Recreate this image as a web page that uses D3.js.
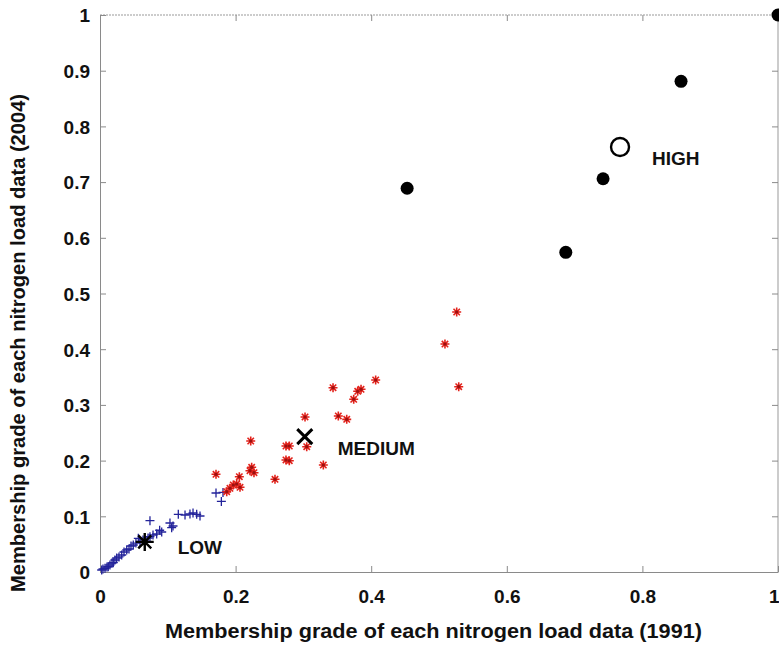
<!DOCTYPE html>
<html><head><meta charset="utf-8">
<script src="https://cdn.jsdelivr.net/npm/d3@7"></script>
<style>html,body{margin:0;padding:0;background:#fff;}svg{display:block;}</style>
</head><body>
<script>
// LOW cluster (blue +)
const lowX = [0.0025,0.0044,0.0074,0.0103,0.0122,0.0147,0.0177,0.0196,0.022,0.0246,0.028,0.032,0.0354,0.0394,0.0428,0.0457,0.0491,0.053,0.0565,0.059,0.0634,0.0708,0.0737,0.0782,0.0836,0.091,0.088,0.1032,0.1057,0.1077,0.0737,0.1155,0.1254,0.1327,0.1372,0.1426,0.1475,0.1711,0.1814,0.1790];
const lowY = [0.0036,0.0054,0.0066,0.009,0.0095,0.0126,0.016,0.0167,0.0215,0.0251,0.027,0.0305,0.0359,0.0395,0.0413,0.0467,0.0485,0.052,0.0605,0.0544,0.0575,0.061,0.0634,0.0664,0.0682,0.0718,0.075,0.088,0.0795,0.0826,0.0921,0.1036,0.1023,0.1041,0.1059,0.1036,0.1005,0.1418,0.1429,0.1267];
// MEDIUM cluster (red *)
const medX = [0.2223,0.2743,0.2792,0.3049,0.2743,0.2792,0.3294,0.2237,0.2212,0.2271,0.1711,0.2055,0.2581,0.2016,0.1966,0.2065,0.1917,0.1869,0.3024,0.3437,0.3515,0.3639,0.3742,0.3801,0.3850,0.4066,0.5088,0.5261,0.5291];
const medY = [0.2352,0.2262,0.2262,0.2250,0.2011,0.1998,0.1921,0.1880,0.1819,0.1783,0.1754,0.1711,0.1664,0.1580,0.1562,0.1521,0.1503,0.1442,0.2783,0.3309,0.2801,0.2741,0.3101,0.3244,0.3280,0.3447,0.4093,0.4668,0.3327];
// HIGH cluster (black dots)
const highX = [1.0,0.857,0.742,0.687,0.453];
const highY = [1.0,0.881,0.706,0.574,0.689];
// cluster centres
const centreNames = ["LOW","MEDIUM","HIGH"];
const centreX = [0.066,0.302,0.767];
const centreY = [0.054,0.243,0.763];
const tickVals = [0,0.2,0.4,0.6,0.8,1];
const yTickVals = [0,0.1,0.2,0.3,0.4,0.5,0.6,0.7,0.8,0.9,1];
const xTitle = "Membership grade of each nitrogen load data (1991)";
const yTitle = "Membership grade of each nitrogen load data (2004)";

const W = 779, H = 645;
const L = 100, R = 778, T = 15, B = 572;
const svg = d3.select("body").append("svg").attr("width", W).attr("height", H);
const x = d3.scaleLinear().domain([0,1]).range([L,R]);
const y = d3.scaleLinear().domain([0,1]).range([B,T]);
const font = "'Liberation Sans', Arial, sans-serif";

// frame
const axCol = "#8a8a8a";
svg.append("line").attr("x1",L).attr("x2",R).attr("y1",T).attr("y2",T).attr("stroke","#999").attr("stroke-dasharray","2,1");
svg.append("line").attr("x1",R).attr("x2",R).attr("y1",T).attr("y2",B).attr("stroke","#999");

// axes via d3
const xAxis = svg.append("g").attr("transform",`translate(0,${B})`)
  .call(d3.axisBottom(x).tickValues(tickVals).tickFormat(d3.format("~g")).tickSizeInner(-6).tickSizeOuter(0).tickPadding(18));
const yAxis = svg.append("g").attr("transform",`translate(${L},0)`)
  .call(d3.axisLeft(y).tickValues(yTickVals).tickFormat(d3.format("~g")).tickSizeInner(-6).tickSizeOuter(0).tickPadding(10));
const xTop = svg.append("g").attr("transform",`translate(0,${T})`)
  .call(d3.axisTop(x).tickValues(tickVals).tickFormat("").tickSizeInner(-6).tickSizeOuter(0));
const yRight = svg.append("g").attr("transform",`translate(${R},0)`)
  .call(d3.axisRight(y).tickValues(yTickVals).tickFormat("").tickSizeInner(-6).tickSizeOuter(0));
[xAxis,yAxis,xTop,yRight].forEach(g=>{
  g.selectAll("path.domain").attr("stroke",axCol);
  g.selectAll(".tick line").attr("stroke",axCol);
  g.selectAll("text").attr("font-family",font).attr("font-weight","bold").attr("font-size",19).attr("fill","#111");
});
xTop.select("path.domain").remove();
yRight.select("path.domain").remove();
yAxis.selectAll("text").attr("dy","0.36em");
// keep the last x label inside the window
xAxis.selectAll(".tick text").filter(d=>d===1).attr("text-anchor","end").attr("x",1);

// axis titles
svg.append("text").attr("x",(165+702)/2).attr("y",638).attr("text-anchor","middle")
  .attr("font-family",font).attr("font-weight","bold").attr("font-size",20).attr("fill","#111")
  .attr("textLength",537).attr("lengthAdjust","spacingAndGlyphs").text(xTitle);
svg.append("text").attr("transform","translate(25,343) rotate(-90)").attr("text-anchor","middle")
  .attr("font-family",font).attr("font-weight","bold").attr("font-size",20).attr("fill","#111")
  .attr("textLength",498).attr("lengthAdjust","spacingAndGlyphs").text(yTitle);

// LOW pluses
const low = d3.range(lowX.length).map(i=>[lowX[i],lowY[i]]);
svg.append("g").selectAll("path").data(low).join("path")
  .attr("d",d=>{const px=x(d[0]),py=y(d[1]),s=4.5;return `M${px-s},${py}H${px+s}M${px},${py-s}V${py+s}`;})
  .attr("stroke","#23239a").attr("stroke-width",1.3).attr("fill","none");

// MEDIUM asterisks
const med = d3.range(medX.length).map(i=>[medX[i],medY[i]]);
svg.append("g").selectAll("path").data(med).join("path")
  .attr("d",d=>{const px=x(d[0]),py=y(d[1]),s=4.5,t=3.2;
    return `M${px-s},${py}H${px+s}M${px},${py-s}V${py+s}M${px-t},${py-t}L${px+t},${py+t}M${px-t},${py+t}L${px+t},${py-t}`;})
  .attr("stroke","#e3231c").attr("stroke-width",1.6).attr("fill","none");
svg.append("g").selectAll("circle").data(med).join("circle")
  .attr("cx",d=>x(d[0])).attr("cy",d=>y(d[1])).attr("r",1.6).attr("fill","#9a1010");

// HIGH dots
const high = d3.range(highX.length).map(i=>[highX[i],highY[i]]);
svg.append("g").selectAll("circle").data(high).join("circle")
  .attr("cx",d=>x(d[0])).attr("cy",d=>y(d[1])).attr("r",6.5).attr("fill","#000");

// centres
(function(){const px=x(centreX[0]),py=y(centreY[0]),s=9,t=6.5;
  svg.append("path").attr("d",`M${px-s},${py}H${px+s}M${px},${py-s}V${py+s}M${px-t},${py-t}L${px+t},${py+t}M${px-t},${py+t}L${px+t},${py-t}`)
    .attr("stroke","#000").attr("stroke-width",2.4).attr("fill","none");})();
(function(){const px=x(centreX[1]),py=y(centreY[1]),s=7.5;
  svg.append("path").attr("d",`M${px-s},${py-s}L${px+s},${py+s}M${px-s},${py+s}L${px+s},${py-s}`)
    .attr("stroke","#000").attr("stroke-width",3).attr("fill","none");})();
svg.append("circle").attr("cx",x(centreX[2])).attr("cy",y(centreY[2])).attr("r",9)
  .attr("fill","none").attr("stroke","#000").attr("stroke-width",2.4);

// labels
const labOff = [[33,12],[33,18],[32,18]];
centreNames.forEach((n,i)=>{
  svg.append("text").attr("x",x(centreX[i])+labOff[i][0]).attr("y",y(centreY[i])+labOff[i][1])
    .attr("font-family",font).attr("font-weight","bold").attr("font-size",19).attr("fill","#111").text(n);
});
</script>
</body></html>
